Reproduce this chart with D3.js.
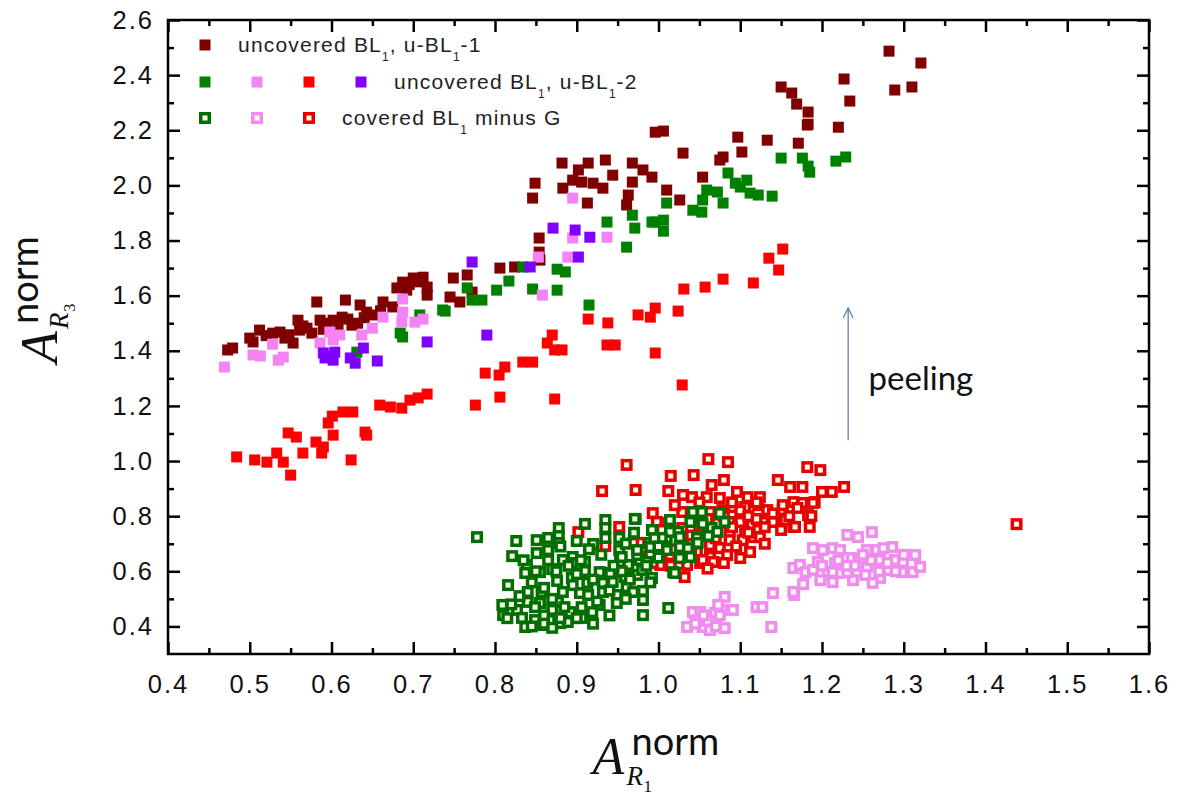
<!DOCTYPE html>
<html><head><meta charset="utf-8">
<script src="https://cdn.jsdelivr.net/npm/d3@7"></script>
<style>body{margin:0;background:#fff}svg{display:block}</style>
</head><body>
<script>
// ---------- data ----------
const xTicks = [0.4,0.5,0.6,0.7,0.8,0.9,1.0,1.1,1.2,1.3,1.4,1.5,1.6];
const yTicks = [0.4,0.6,0.8,1.0,1.2,1.4,1.6,1.8,2.0,2.2,2.4,2.6];

// uncovered BL1, u-BL1-1 (dark red filled)
const uBL1_1 = [[0.479,1.410],[0.473,1.403],[0.500,1.446],[0.512,1.475],[0.504,1.432],[0.520,1.455],[0.528,1.464],[0.537,1.468],[0.543,1.446],[0.548,1.458],[0.553,1.428],[0.559,1.511],[0.561,1.475],[0.565,1.490],[0.570,1.482],[0.576,1.464],[0.582,1.577],[0.586,1.511],[0.590,1.478],[0.594,1.500],[0.602,1.511],[0.608,1.490],[0.613,1.522],[0.617,1.584],[0.620,1.515],[0.625,1.493],[0.635,1.566],[0.632,1.500],[0.640,1.520],[0.643,1.540],[0.651,1.530],[0.660,1.545],[0.663,1.577],[0.680,1.628],[0.675,1.559],[0.687,1.649],[0.692,1.620],[0.695,1.640],[0.700,1.664],[0.705,1.650],[0.712,1.667],[0.717,1.631],[0.717,1.602],[0.749,1.664],[0.745,1.595],[0.757,1.577],[0.766,1.675],[0.772,1.613],[0.806,1.700],[0.824,1.704],[0.855,1.729],[0.854,1.809],[0.854,1.758],[0.849,2.008],[0.846,1.954],[0.882,2.081],[0.883,1.990],[0.895,2.019],[0.902,2.056],[0.906,2.012],[0.914,2.081],[0.920,2.008],[0.932,1.990],[0.935,2.092],[0.944,2.037],[0.913,1.936],[0.968,2.081],[0.968,2.012],[0.963,1.965],[0.961,1.929],[0.981,2.056],[0.992,2.030],[0.996,2.193],[1.006,2.197],[1.010,1.983],[1.026,1.947],[1.030,2.117],[1.054,2.030],[1.079,2.103],[1.075,2.092],[1.097,2.175],[1.102,2.121],[1.133,2.164],[1.171,2.153],[1.182,2.219],[1.150,2.357],[1.163,2.335],[1.169,2.295],[1.183,2.266],[1.183,2.222],[1.220,2.211],[1.227,2.386],[1.234,2.306],[1.282,2.487],[1.321,2.444],[1.289,2.346],[1.310,2.357]];

// uncovered BL1, u-BL1-2 : green filled
const uBL1_2green = [[0.631,1.395],[0.684,1.464],[0.687,1.450],[0.708,1.530],[0.736,1.548],[0.739,1.544],[0.766,1.628],[0.772,1.584],[0.784,1.584],[0.802,1.620],[0.817,1.653],[0.834,1.704],[0.846,1.624],[0.876,1.620],[0.876,1.696],[0.886,1.686],[0.915,1.566],[0.937,1.867],[0.961,1.776],[0.968,1.892],[0.971,1.845],[0.992,1.867],[0.996,1.867],[1.006,1.874],[1.006,1.834],[1.010,1.936],[1.042,1.910],[1.053,1.903],[1.054,1.947],[1.059,1.983],[1.072,1.976],[1.079,1.936],[1.085,2.045],[1.094,2.008],[1.100,1.994],[1.108,2.019],[1.112,1.972],[1.122,1.965],[1.139,1.961],[1.150,2.099],[1.176,2.099],[1.183,2.070],[1.185,2.048],[1.217,2.088],[1.229,2.103]];

// pink filled
const uBL1_2pink = [[0.469,1.341],[0.504,1.385],[0.513,1.381],[0.528,1.424],[0.535,1.366],[0.541,1.377],[0.586,1.428],[0.598,1.468],[0.610,1.457],[0.602,1.439],[0.637,1.457],[0.650,1.482],[0.663,1.522],[0.687,1.588],[0.687,1.540],[0.686,1.504],[0.702,1.504],[0.712,1.515],[0.853,1.740],[0.858,1.602],[0.889,1.740],[0.895,1.809],[0.895,1.954],[0.937,1.812]];

// red filled
const uBL1_2red = [[0.484,1.015],[0.506,1.004],[0.521,0.996],[0.533,1.029],[0.541,0.996],[0.550,0.949],[0.547,1.102],[0.557,1.087],[0.565,1.029],[0.581,1.069],[0.590,1.051],[0.588,1.029],[0.602,1.094],[0.596,1.138],[0.601,1.163],[0.614,1.178],[0.626,1.178],[0.624,1.004],[0.641,1.105],[0.643,1.094],[0.659,1.203],[0.672,1.196],[0.686,1.192],[0.696,1.221],[0.706,1.229],[0.717,1.243],[0.776,1.203],[0.806,1.232],[0.788,1.319],[0.805,1.312],[0.812,1.341],[0.834,1.359],[0.846,1.359],[0.873,1.225],[0.864,1.428],[0.873,1.403],[0.882,1.403],[0.870,1.457],[0.914,1.515],[0.937,1.421],[0.947,1.421],[0.938,1.501],[0.975,1.530],[0.990,1.522],[0.996,1.555],[0.996,1.392],[1.024,1.544],[1.029,1.276],[1.031,1.624],[1.057,1.631],[1.079,1.660],[1.116,1.646],[1.135,1.736],[1.147,1.693],[1.152,1.769]];

// purple filled
const uBL1_2purple = [[0.590,1.392],[0.592,1.374],[0.604,1.395],[0.602,1.366],[0.598,1.380],[0.623,1.374],[0.629,1.355],[0.639,1.410],[0.656,1.363],[0.717,1.432],[0.772,1.722],[0.790,1.457],[0.843,1.704],[0.871,1.845],[0.898,1.838],[0.902,1.740],[0.916,1.812]];

// covered BL1 minus G : green open
const covGreen = [[0.778,0.724],[0.826,0.710],[0.821,0.655],[0.851,0.713],[0.865,0.721],[0.878,0.757],[0.878,0.728],[0.878,0.703],[0.910,0.772],[0.935,0.786],[0.935,0.757],[0.935,0.721],[0.952,0.721],[0.952,0.677],[0.972,0.790],[0.851,0.666],[0.865,0.677],[0.883,0.641],[0.895,0.652],[0.910,0.634],[0.920,0.699],[0.839,0.623],[0.855,0.597],[0.870,0.608],[0.895,0.630],[0.910,0.601],[0.928,0.597],[0.941,0.594],[0.953,0.634],[0.963,0.623],[0.977,0.641],[0.989,0.703],[1.010,0.721],[1.024,0.743],[1.029,0.688],[1.018,0.597],[0.992,0.576],[0.974,0.587],[0.961,0.579],[0.816,0.550],[0.837,0.594],[0.876,0.565],[0.894,0.576],[0.913,0.558],[0.932,0.558],[0.944,0.561],[0.961,0.543],[0.981,0.529],[0.840,0.525],[0.857,0.525],[0.883,0.525],[0.904,0.521],[0.914,0.514],[0.932,0.525],[0.949,0.514],[0.969,0.525],[0.809,0.478],[0.827,0.460],[0.840,0.489],[0.855,0.485],[0.877,0.489],[0.892,0.452],[0.906,0.470],[0.928,0.478],[0.949,0.485],[0.981,0.496],[0.810,0.441],[0.833,0.431],[0.849,0.423],[0.870,0.460],[0.867,0.423],[0.880,0.412],[0.889,0.416],[0.906,0.431],[0.919,0.452],[0.837,0.398],[0.859,0.405],[0.849,0.470],[0.981,0.441],[1.012,0.467],[0.955,0.652],[0.974,0.659],[0.980,0.605],[0.971,0.790],[0.992,0.750],[1.014,0.786],[1.014,0.743],[1.039,0.779],[1.042,0.815],[1.053,0.815],[1.054,0.772],[1.065,0.757],[1.081,0.779],[1.075,0.811],[1.004,0.721],[1.026,0.724],[1.047,0.721],[1.061,0.728],[1.072,0.743],[0.974,0.677],[0.990,0.688],[1.010,0.677],[1.026,0.688],[1.036,0.684],[1.048,0.703],[0.959,0.579],[0.986,0.634],[1.020,0.594],[1.039,0.652],[1.026,0.648],[0.845,0.560],[0.860,0.540],[0.870,0.500],[0.885,0.470],[0.895,0.550],[0.900,0.590],[0.920,0.570],[0.925,0.490],[0.940,0.530],[0.955,0.600],[0.960,0.500],[0.830,0.510],[0.820,0.480],[0.815,0.430],[0.860,0.440],[0.875,0.600],[0.890,0.620],[0.905,0.640],[0.915,0.680],[0.930,0.660],[0.945,0.620],[0.965,0.570],[0.985,0.620],[1.000,0.650],[0.990,0.560],[0.850,0.600],[0.835,0.640],[0.865,0.640],[0.880,0.690],[0.900,0.710],[0.960,0.700],[0.970,0.740],[0.995,0.720],[1.000,0.690],[0.940,0.440],[0.920,0.410],[0.900,0.430],[0.880,0.430],[0.860,0.410],[0.845,0.400],[0.870,0.395]];

// pink open
const covPink = [[1.035,0.398],[1.042,0.452],[1.051,0.452],[1.054,0.398],[1.063,0.387],[1.069,0.449],[1.078,0.460],[1.081,0.507],[1.081,0.394],[1.091,0.460],[1.073,0.478],[1.048,0.423],[1.120,0.470],[1.127,0.470],[1.140,0.521],[1.138,0.398],[1.166,0.514],[1.177,0.554],[1.165,0.612],[1.173,0.623],[1.180,0.597],[1.189,0.605],[1.189,0.684],[1.201,0.677],[1.213,0.684],[1.222,0.677],[1.231,0.732],[1.244,0.724],[1.261,0.742],[1.195,0.634],[1.207,0.597],[1.216,0.630],[1.222,0.594],[1.234,0.648],[1.243,0.597],[1.238,0.568],[1.255,0.616],[1.255,0.677],[1.267,0.677],[1.275,0.684],[1.286,0.688],[1.271,0.641],[1.281,0.605],[1.271,0.576],[1.289,0.641],[1.299,0.634],[1.298,0.597],[1.311,0.597],[1.314,0.659],[1.320,0.616],[1.246,0.648],[1.226,0.648],[1.198,0.568],[1.213,0.561],[1.253,0.587],[1.231,0.597],[1.262,0.558],[1.213,0.597],[1.165,0.525],[1.240,0.620],[1.260,0.640],[1.270,0.600],[1.250,0.660],[1.230,0.620],[1.280,0.630],[1.290,0.600],[1.300,0.660],[1.220,0.640],[1.200,0.620],[1.045,0.410],[1.060,0.420],[1.070,0.400],[1.075,0.440],[1.055,0.440]];

// red open
const covRed = [[0.961,0.986],[0.972,0.895],[0.931,0.891],[1.012,0.891],[1.015,0.946],[1.043,0.949],[1.061,1.007],[1.085,0.996],[1.065,0.913],[1.080,0.931],[1.030,0.877],[1.041,0.869],[1.059,0.869],[1.075,0.866],[1.096,0.888],[1.109,0.869],[1.124,0.869],[1.029,0.815],[1.063,0.815],[1.078,0.822],[1.091,0.833],[1.106,0.833],[1.122,0.840],[1.133,0.822],[1.152,0.822],[1.165,0.851],[1.176,0.848],[1.146,0.931],[1.161,0.906],[1.176,0.906],[1.182,0.978],[1.198,0.967],[1.200,0.888],[1.212,0.888],[1.227,0.906],[1.191,0.851],[0.993,0.811],[1.002,0.775],[1.029,0.757],[1.072,0.775],[1.087,0.779],[1.100,0.779],[1.114,0.768],[1.128,0.779],[1.142,0.779],[1.152,0.786],[1.165,0.761],[1.185,0.761],[1.183,0.804],[1.051,0.739],[1.087,0.742],[1.106,0.742],[1.122,0.750],[1.063,0.695],[1.075,0.684],[1.087,0.713],[1.103,0.713],[1.116,0.724],[1.047,0.670],[1.063,0.652],[1.084,0.659],[0.977,0.703],[0.969,0.703],[0.986,0.652],[1.002,0.623],[1.014,0.659],[0.993,0.630],[1.035,0.623],[1.051,0.630],[1.054,0.641],[1.026,0.594],[1.032,0.579],[0.998,0.779],[1.004,0.750],[0.902,0.742],[0.952,0.761],[0.935,0.692],[1.100,0.648],[1.112,0.670],[1.124,0.724],[1.140,0.779],[1.152,0.840],[1.189,0.848],[1.187,0.800],[1.167,0.761],[1.155,0.786],[1.067,0.634],[1.438,0.771],[1.040,0.800],[1.050,0.760],[1.060,0.790],[1.070,0.720],[1.080,0.800],[1.090,0.760],[1.100,0.820],[1.110,0.800],[1.120,0.790],[1.130,0.760],[1.140,0.810],[1.050,0.850],[1.090,0.850],[1.120,0.850],[1.030,0.700],[1.040,0.660],[1.020,0.680],[1.000,0.700],[0.990,0.660],[1.060,0.610],[1.080,0.630],[1.095,0.690],[1.110,0.740],[1.130,0.700],[1.150,0.750],[1.160,0.800],[1.170,0.830],[1.020,0.840],[1.040,0.730],[1.015,0.620]];

// annotation
const peelingLabel = "peeling";
const arrowFrom = [1.232, 1.075], arrowTo = [1.232, 1.555];

// ---------- drawing ----------
const W = 1181, H = 800;
const svg = d3.select("body").append("svg").attr("width", W).attr("height", H)
  .style("background", "#fff");
const x = d3.scaleLinear().domain([0.4, 1.6]).range([168, 1149]);
const y = d3.scaleLinear().domain([0.3, 2.6]).range([654, 20]);

const col = {
  dred: "#800000", green: "#008000", pink: "#f484f4", red: "#ff0000", purple: "#8000ff",
  ogreen: "#006e00", opink: "#f08cf0", ored: "#e80000"
};
const FS = 11; // filled square side
function filled(data, color) {
  svg.append("g").selectAll("rect").data(data).join("rect")
    .attr("x", d => x(d[0]) - FS/2).attr("y", d => y(d[1]) - FS/2)
    .attr("width", FS).attr("height", FS).attr("fill", color);
}
function open(data, color) {
  svg.append("g").selectAll("rect").data(data).join("rect")
    .attr("x", d => x(d[0]) - 4.25).attr("y", d => y(d[1]) - 4.25)
    .attr("width", 8.5).attr("height", 8.5).attr("fill", "#fffff0")
    .attr("stroke", color).attr("stroke-width", 3.5);
}
filled(uBL1_1, col.dred);
filled(uBL1_2green, col.green);
filled(uBL1_2pink, col.pink);
filled(uBL1_2red, col.red);
filled(uBL1_2purple, col.purple);
open(covRed, col.ored);
open(covGreen, col.ogreen);
open(covPink, col.opink);

// axes
const tickFont = "Liberation Sans, Arial, sans-serif";
const xMinor = d3.range(0.45, 1.6, 0.1);
const yMinor = d3.range(0.5, 2.6, 0.2);
function styleAxis(g) {
  g.select(".domain").remove();
  g.selectAll("line").attr("stroke", "#000").attr("stroke-width", 2.5);
  g.selectAll("text").attr("font-family", tickFont).attr("font-size", 25.5)
    .attr("letter-spacing", 2).attr("fill", "#111");
}
svg.append("g").attr("transform", "translate(0,654)")
  .call(d3.axisBottom(x).tickValues(xTicks).tickSize(-12).tickPadding(21).tickFormat(d3.format(".1f"))).call(styleAxis);
svg.append("g").attr("transform", "translate(0,654)")
  .call(d3.axisBottom(x).tickValues(xMinor).tickSize(-6).tickFormat("")).call(styleAxis);
svg.append("g").attr("transform", "translate(0,20)")
  .call(d3.axisTop(x).tickValues(xTicks).tickSize(-12).tickFormat("")).call(styleAxis);
svg.append("g").attr("transform", "translate(0,20)")
  .call(d3.axisTop(x).tickValues(xMinor).tickSize(-6).tickFormat("")).call(styleAxis);
svg.append("g").attr("transform", "translate(168,0)")
  .call(d3.axisLeft(y).tickValues(yTicks).tickSize(-12).tickPadding(14).tickFormat(d3.format(".1f"))).call(styleAxis);
svg.append("g").attr("transform", "translate(168,0)")
  .call(d3.axisLeft(y).tickValues(yMinor).tickSize(-6).tickFormat("")).call(styleAxis);
svg.append("g").attr("transform", "translate(1149,0)")
  .call(d3.axisRight(y).tickValues(yTicks).tickSize(-12).tickFormat("")).call(styleAxis);
svg.append("g").attr("transform", "translate(1149,0)")
  .call(d3.axisRight(y).tickValues(yMinor).tickSize(-6).tickFormat("")).call(styleAxis);
svg.append("rect").attr("x", 168).attr("y", 20).attr("width", 1149 - 168).attr("height", 634)
  .attr("fill", "none").attr("stroke", "#000").attr("stroke-width", 2.5);

// legend
const lg = svg.append("g").attr("font-family", tickFont).attr("font-size", 21)
  .attr("letter-spacing", 1.2).attr("fill", "#222");
function legMarker(cx, cy, color, isOpen) {
  if (isOpen) lg.append("rect").attr("x", cx - 4.25).attr("y", cy - 4.25).attr("width", 8.5).attr("height", 8.5)
    .attr("fill", "#fffff0").attr("stroke", color).attr("stroke-width", 3.5);
  else lg.append("rect").attr("x", cx - 5.5).attr("y", cy - 5.5).attr("width", 11).attr("height", 11).attr("fill", color);
}
function legText(tx, ty, parts) {
  const t = lg.append("text").attr("x", tx).attr("y", ty);
  parts.forEach(p => {
    if (p.sub) t.append("tspan").attr("dy", 9).attr("font-size", 12).attr("letter-spacing", 1).text(p.t);
    else t.append("tspan").attr("dy", p.back ? -9 : 0).text(p.t);
  });
}
legMarker(205, 45, col.dred, false);
legText(238, 52, [{t:"uncovered BL"},{t:"1",sub:true},{t:", u-BL",back:true},{t:"1",sub:true},{t:"-1",back:true}]);
legMarker(205, 82, col.green, false);
legMarker(257, 82, col.pink, false);
legMarker(309, 82, col.red, false);
legMarker(361, 82, col.purple, false);
legText(394, 89, [{t:"uncovered BL"},{t:"1",sub:true},{t:", u-BL",back:true},{t:"1",sub:true},{t:"-2",back:true}]);
legMarker(205, 118, col.ogreen, true);
legMarker(257, 118, col.opink, true);
legMarker(309, 118, col.ored, true);
legText(342, 125, [{t:"covered BL"},{t:"1",sub:true},{t:" minus G",back:true}]);

// annotation arrow + text
const ax = x(arrowFrom[0]), ay0 = y(arrowFrom[1]), ay1 = y(arrowTo[1]);
svg.append("line").attr("x1", ax).attr("x2", ax).attr("y1", ay0).attr("y2", ay1)
  .attr("stroke", "#5f7fae").attr("stroke-width", 1.3);
svg.append("path").attr("d", `M${ax-5},${ay1+10} L${ax},${ay1} L${ax+5},${ay1+10}`)
  .attr("fill", "none").attr("stroke", "#5f7fae").attr("stroke-width", 1.3);
svg.append("text").attr("x", x(1.257)).attr("y", y(1.258))
  .attr("font-family", "Lato, 'Open Sans', sans-serif").attr("font-size", 33).attr("fill", "#111")
  .text(peelingLabel);

// axis titles
function axisTitle(g, sub) {
  g.append("text").attr("x", -66).attr("y", 0).attr("font-family", "Liberation Serif, serif")
    .attr("font-style", "italic").attr("font-size", 52).attr("fill", "#111").text("A");
  g.append("text").attr("x", -27).attr("y", -19).attr("font-family", "Lato, sans-serif")
    .attr("font-size", 38).attr("fill", "#111").text("norm");
  g.append("text").attr("x", -32).attr("y", 11).attr("font-family", "Liberation Serif, serif")
    .attr("font-style", "italic").attr("font-size", 27).attr("fill", "#111").text("R");
  g.append("text").attr("x", -15).attr("y", 18).attr("font-family", "Liberation Serif, serif")
    .attr("font-size", 17).attr("fill", "#111").text(sub);
  return g;
}
axisTitle(svg.append("g").attr("transform", `translate(${(168+1149)/2},774)`), "1");
axisTitle(svg.append("g").attr("transform", `translate(57,297) rotate(-90)`), "3");
</script>
</body></html>
